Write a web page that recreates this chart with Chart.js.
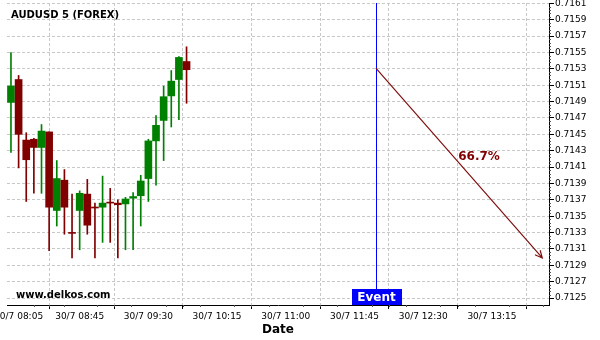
<!DOCTYPE html>
<html>
<head>
<meta charset="utf-8">
<script src="https://cdn.jsdelivr.net/npm/chart.js@4.4.1/dist/chart.umd.min.js"></script>
<style>
  html, body { margin: 0; padding: 0; background: #fff; }
</style>
</head>
<body>
<canvas id="graph" width="600" height="340"></canvas>
<script>
// AUDUSD 5 minute candles, 30/7
const candleTimes = ['08:00', '08:05', '08:10', '08:15', '08:20', '08:25', '08:30', '08:35',
    '08:40', '08:45', '08:50', '08:55', '09:00', '09:05', '09:10', '09:15',
    '09:20', '09:25', '09:30', '09:35', '09:40', '09:45', '09:50', '09:55'];
const openPrices = [0.71489, 0.71517, 0.71443, 0.71444, 0.71434, 0.71453, 0.71357, 0.71394,
    0.71330, 0.71357, 0.71377, 0.71361, 0.71361, 0.71367, 0.71366, 0.71365,
    0.71372, 0.71375, 0.71396, 0.71442, 0.71467, 0.71497, 0.71517, 0.71539];
const highPrices = [0.71550, 0.71522, 0.71452, 0.71445, 0.71462, 0.71453, 0.71418, 0.71407,
    0.71377, 0.71381, 0.71395, 0.71366, 0.71399, 0.71384, 0.71370, 0.71373,
    0.71379, 0.71400, 0.71444, 0.71473, 0.71509, 0.71528, 0.71545, 0.71557];
const lowPrices = [0.71428, 0.71409, 0.71368, 0.71378, 0.71378, 0.71308, 0.71338, 0.71328,
    0.71299, 0.71309, 0.71328, 0.71299, 0.71318, 0.71318, 0.71299, 0.71309,
    0.71309, 0.71338, 0.71368, 0.71388, 0.71418, 0.71459, 0.71468, 0.71488];
const closePrices = [0.71509, 0.71450, 0.71419, 0.71434, 0.71454, 0.71361, 0.71396, 0.71361,
    0.71329, 0.71378, 0.71339, 0.71360, 0.71366, 0.71366, 0.71364, 0.71371,
    0.71374, 0.71393, 0.71442, 0.71461, 0.71496, 0.71515, 0.71544, 0.71529];

const yTicks = [0.7125, 0.7127, 0.7129, 0.7131, 0.7133, 0.7135, 0.7137, 0.7139, 0.7141,
    0.7143, 0.7145, 0.7147, 0.7149, 0.7151, 0.7153, 0.7155, 0.7157, 0.7159, 0.7161];
const xTickLabels = ['30/7 08:05', '30/7 08:45', '30/7 09:30', '30/7 10:15',
    '30/7 11:00', '30/7 11:45', '30/7 12:30', '30/7 13:15'];

const chartTitle = 'AUDUSD 5 (FOREX)';
const watermark = 'www.delkos.com';
const eventLabel = 'Event';
const eventTime = '11:59';
const eventPrice = 0.71531;
const targetTime = '13:48';
const targetPrice = 0.71299;
const targetPercent = '66.7%';

const FONT = '"DejaVu Sans", sans-serif';
const GREEN = '#008000';
const RED = '#800000';

function toMin(t) {
    const [h, m] = t.split(':').map(Number);
    return h * 60 + m;
}

const xs = candleTimes.map(toMin);
const bodies = xs.map((x, i) => ({ x: x, y: [openPrices[i], closePrices[i]] }));
const wicks = xs.map((x, i) => ({ x: x, y: [lowPrices[i], highPrices[i]] }));
const candleColors = openPrices.map((o, i) => closePrices[i] > o ? GREEN : RED);
const xTickValues = xTickLabels.map(l => toMin(l.split(' ')[1]));

// extra drawing: minor ticks, texts, event marker and forecast arrow
const overlay = {
    id: 'overlay',
    afterDraw(chart) {
        const ctx = chart.ctx;
        const xS = chart.scales.x;
        const yS = chart.scales.y;
        const area = chart.chartArea;
        ctx.save();

        // minor ticks
        ctx.strokeStyle = '#555';
        ctx.lineWidth = 1;
        ctx.beginPath();
        for (let i = 0; i < yTicks.length - 1; i++) {
            for (let k = 1; k < 5; k++) {
                const v = yTicks[i] + (yTicks[i + 1] - yTicks[i]) * k / 5;
                const py = Math.round(yS.getPixelForValue(v)) + 0.5;
                ctx.moveTo(area.right, py);
                ctx.lineTo(area.right + 2, py);
            }
        }
        for (let i = 0; i < xTickValues.length; i++) {
            const next = i < xTickValues.length - 1 ? xTickValues[i + 1] : xTickValues[i] + 45;
            for (let k = 1; k < 4; k++) {
                const v = xTickValues[i] + (next - xTickValues[i]) * k / 4;
                if (v > xS.max) continue;
                const px = Math.round(xS.getPixelForValue(v)) + 0.5;
                ctx.moveTo(px, area.bottom);
                ctx.lineTo(px, area.bottom + 2);
            }
        }
        ctx.stroke();

        // title and watermark
        ctx.fillStyle = '#000';
        ctx.textBaseline = 'middle';
        ctx.textAlign = 'left';
        ctx.font = 'bold 10px ' + FONT;
        ctx.fillText(chartTitle, 11, 15);
        ctx.fillText(watermark, 16, 295);

        // event line and label
        const ex = Math.round(xS.getPixelForValue(toMin(eventTime))) + 0.5;
        const boxH = 16, boxW = 50;
        ctx.strokeStyle = '#0000ff';
        ctx.beginPath();
        ctx.moveTo(ex, area.top);
        ctx.lineTo(ex, area.bottom - boxH);
        ctx.stroke();
        ctx.fillStyle = '#0000ff';
        ctx.fillRect(Math.round(ex - boxW / 2), area.bottom - boxH, boxW, boxH);
        ctx.fillStyle = '#fff';
        ctx.textAlign = 'center';
        ctx.font = 'bold 12px ' + FONT;
        ctx.fillText(eventLabel, ex, area.bottom - boxH / 2 + 0.5);

        // forecast arrow
        const x1 = xS.getPixelForValue(toMin(eventTime));
        const y1 = yS.getPixelForValue(eventPrice);
        const x2 = xS.getPixelForValue(toMin(targetTime));
        const y2 = yS.getPixelForValue(targetPrice);
        const ang = Math.atan2(y2 - y1, x2 - x1);
        ctx.strokeStyle = '#801010';
        ctx.lineWidth = 1.2;
        ctx.beginPath();
        ctx.moveTo(x1, y1);
        ctx.lineTo(x2, y2);
        ctx.moveTo(x2 - 8 * Math.cos(ang - 0.45), y2 - 8 * Math.sin(ang - 0.45));
        ctx.lineTo(x2, y2);
        ctx.lineTo(x2 - 8 * Math.cos(ang + 0.45), y2 - 8 * Math.sin(ang + 0.45));
        ctx.stroke();

        ctx.fillStyle = RED;
        ctx.font = 'bold 12px ' + FONT;
        ctx.fillText(targetPercent, (x1 + x2) / 2 + 20, (y1 + y2) / 2 - 6);

        ctx.restore();
    }
};

new Chart(document.querySelector('#graph').getContext('2d'), {
    type: 'bar',
    data: {
        datasets: [{
            label: 'body',
            data: bodies,
            backgroundColor: candleColors,
            barThickness: 7,
            minBarLength: 1,
            grouped: false,
            order: 0
        }, {
            label: 'wick',
            data: wicks,
            backgroundColor: candleColors,
            barThickness: 1,
            grouped: false,
            order: 1
        }]
    },
    options: {
        responsive: false,
        animation: false,
        devicePixelRatio: 1,
        layout: { padding: { left: 7, top: 3, right: 0, bottom: 0 } },
        plugins: {
            legend: { display: false },
            tooltip: { enabled: false },
            title: { display: false }
        },
        scales: {
            x: {
                type: 'linear',
                min: 477.4,
                max: 832.4,
                offset: false,
                afterBuildTicks: s => { s.ticks = xTickValues.map(v => ({ value: v })); },
                afterFit: s => {
                    s.height = 35;
                    s.paddingLeft = 0;
                    s.paddingRight = 0;
                },
                ticks: {
                    callback: (v, i) => xTickLabels[i],
                    font: { family: FONT, size: 9 },
                    color: '#000',
                    maxRotation: 0,
                    autoSkip: false,
                    padding: 2
                },
                grid: { color: '#c8c8c8', tickColor: '#000', tickLength: 4 },
                border: { display: true, color: '#000', width: 1, dash: [3, 2] },
                title: {
                    display: true,
                    text: 'Date',
                    color: '#000',
                    font: { family: FONT, size: 12, weight: 'bold' },
                    padding: { top: 0, bottom: 3 }
                }
            },
            y: {
                position: 'right',
                min: 0.712415,
                max: 0.716105,
                afterBuildTicks: s => { s.ticks = yTicks.map(v => ({ value: v })); },
                afterFit: s => {
                    s.width = 51;
                    s.paddingTop = 0;
                    s.paddingBottom = 0;
                },
                ticks: {
                    callback: v => v.toFixed(4),
                    font: { family: FONT, size: 9 },
                    color: '#000',
                    padding: 1
                },
                grid: { color: '#c8c8c8', tickColor: '#000', tickLength: 5 },
                border: { display: true, color: '#000', width: 1, dash: [3, 2] }
            }
        }
    },
    plugins: [overlay]
});
</script>
</body>
</html>
